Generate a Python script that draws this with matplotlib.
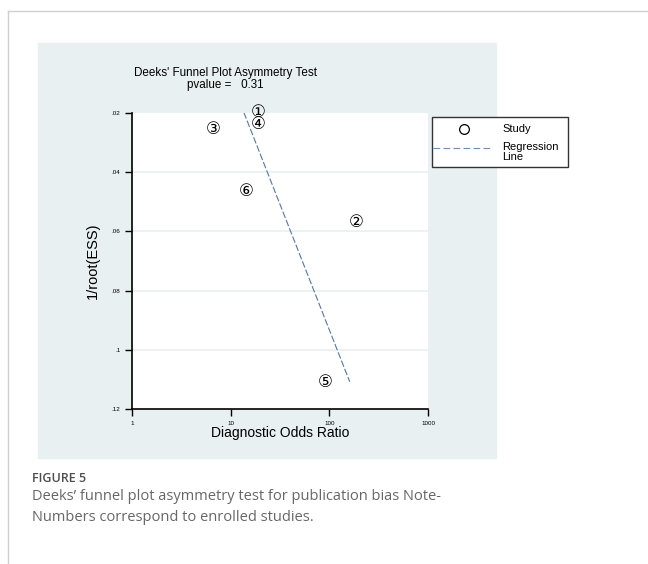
import matplotlib
matplotlib.use('Agg')
import matplotlib.pyplot as plt
from matplotlib.patches import Rectangle
from matplotlib.lines import Line2D

# data
studyLabels = ['\u2460', '\u2461', '\u2462', '\u2463', '\u2464', '\u2465']
studyDor = [18.8, 189, 6.7, 18.9, 91, 14.3]
studyEss = [0.0198, 0.0569, 0.0255, 0.0236, 0.1108, 0.0464]
lineDor = [13.6, 161]
lineEss = [0.0198, 0.1108]
yTicks = [0.02, 0.04, 0.06, 0.08, 0.10, 0.12]
yTickLabels = ['.02', '.04', '.06', '.08', '.1', '.12']
xTicks = [1, 10, 100, 1000]
xTickLabels = ['1', '10', '100', '1000']

plt.rcParams['font.family'] = ['Liberation Sans', 'DejaVu Sans']

W, H = 648, 564
fig = plt.figure(figsize=(W / 100, H / 100), dpi=100)

def fx(px):
    return px / W

def fy(py):
    return 1 - py / H

# page border and grey panel
fig.add_artist(Line2D([fx(8), fx(8)], [0, fy(11)], color='#cfcfcf', lw=1))
fig.add_artist(Line2D([fx(8), 1], [fy(11), fy(11)], color='#cfcfcf', lw=1))
panelColor = '#e9f0f2'
fig.add_artist(Rectangle((fx(38), fy(458)), fx(458), 415 / H, color=panelColor, zorder=0))

ax = fig.add_axes([fx(132), fy(409), fx(296), 296 / H])
ax.set_facecolor('white')
ax.set_xscale('log')
ax.set_xlim(1, 1000)
ax.set_ylim(0.12, 0.02)

for yv in yTicks[1:-1]:
    ax.axhline(yv, color=panelColor, lw=1.2, zorder=1)

ax.plot(lineDor, lineEss, color='#5577a0', lw=0.8, dashes=(6, 2), zorder=2)
for lab, xv, yv in zip(studyLabels, studyDor, studyEss):
    ax.text(xv, yv, lab, ha='center', va='center', fontsize=12,
            family=['DejaVu Sans', 'Noto Sans CJK SC'], zorder=3, clip_on=False)

ax.set_yticks(yTicks)
ax.set_yticklabels(yTickLabels)
ax.set_xticks(xTicks)
ax.set_xticklabels(xTickLabels)
ax.xaxis.set_minor_locator(matplotlib.ticker.NullLocator())
ax.tick_params(labelsize=4.5, length=5, width=1)
ax.spines['top'].set_visible(False)
ax.spines['right'].set_visible(False)
ax.spines['left'].set_linewidth(1.2)
ax.spines['bottom'].set_linewidth(1.2)
ax.set_xlabel('Diagnostic Odds Ratio', fontsize=10, labelpad=0)
ax.set_ylabel('1/root(ESS)', fontsize=10.5, labelpad=8)

fig.text(fx(225), fy(79), "Deeks' Funnel Plot Asymmetry Test\npvalue =   0.31",
         ha='center', va='center', fontsize=8.4, linespacing=1.1)

# legend box
fig.add_artist(Rectangle((fx(432), fy(167)), fx(136), 50 / H, facecolor='white',
                         edgecolor='#333333', lw=1))
fig.add_artist(Line2D([fx(464)], [fy(129)], marker='o', markersize=7,
                      markerfacecolor='none', markeredgecolor='black', markeredgewidth=0.9))
fig.add_artist(Line2D([fx(433), fx(493)], [fy(148), fy(148)], color='#6f8fb5',
                      lw=0.8, dashes=(6, 3)))
fig.text(fx(502), fy(129), 'Study', fontsize=8, va='center')
fig.text(fx(502), fy(152), 'Regression\nLine', fontsize=8, va='center', linespacing=0.95)

# caption
fig.text(fx(32), fy(479), 'FIGURE 5', fontsize=9, color='#4d4d4d',
         family='Open Sans', weight='semibold', va='center')
fig.text(fx(32), fy(507), "Deeks\u2019 funnel plot asymmetry test for publication bias Note-\n"
         "Numbers correspond to enrolled studies.", fontsize=10.5, color='#666666',
         family='Open Sans', va='center', linespacing=1.55)

fig.savefig('out.png', dpi=100)
